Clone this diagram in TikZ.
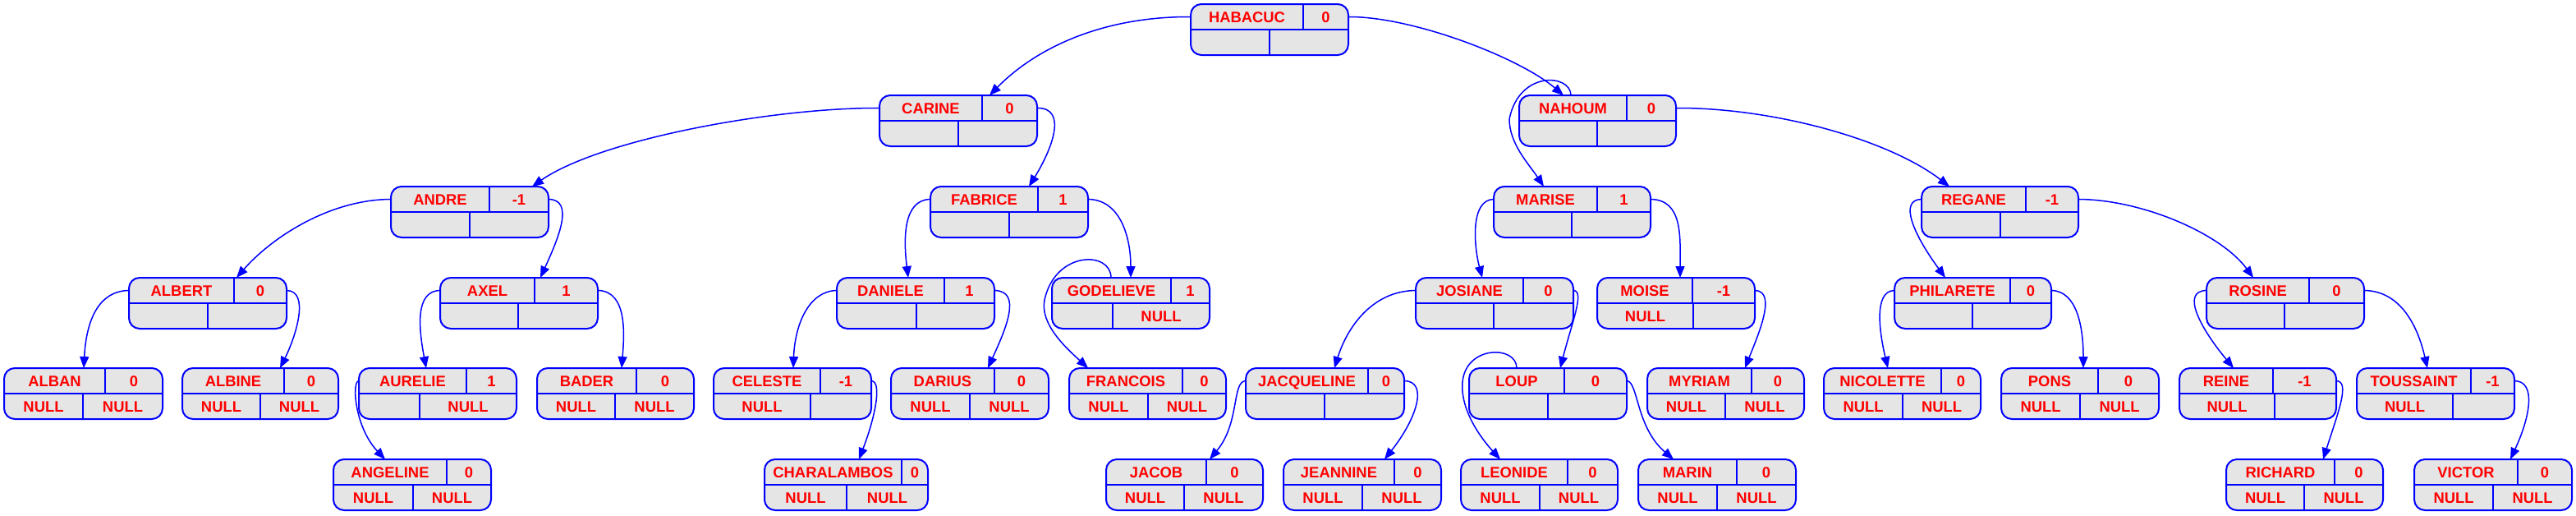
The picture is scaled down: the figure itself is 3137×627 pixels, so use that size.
\documentclass[tikz,border=0pt]{standalone}
\usepackage{fontspec}
\setmainfont{Liberation Sans}
\usetikzlibrary{arrows.meta}
\definecolor{recfill}{HTML}{E5E5E5}
\definecolor{recblue}{HTML}{0000FF}
\definecolor{rectext}{HTML}{FF0000}
\tikzset{
  rec/.style={draw=recblue, fill=recfill, line width=1pt, rounded corners=6.5pt, anchor=north west, minimum height=31pt, inner sep=0pt, outer sep=0pt},
  recl/.style={draw=recblue, line width=1pt},
  rtxt/.style={text=rectext, font=\fontsize{9.2}{10}\selectfont\bfseries, inner sep=0pt, anchor=center, text height=6.55pt, text depth=0pt},
  edge/.style={draw=recblue, line width=0.75pt, -{Triangle[length=7pt,width=5.5pt]}},
}
% \rec{id}{x}{y}{w}{div}{bdiv}{name}{bal}{nullcode}
\newcommand\rec[9]{%
  \pgfmathsetmacro\recw{#4*0.5}%
  \node[rec, minimum width=\recw pt] (#1) at (#2,#3) {};
  \draw[recl] (#2,#3+31) -- (#2+#4,#3+31);
  \draw[recl] (#5,#3) -- (#5,#3+31);
  \draw[recl] (#6,#3+31) -- (#6,#3+62);
  \node[rtxt] (#1-name) at ({(#2+#5)/2},#3+15.5) {#7};
  \node[rtxt] (#1-bal) at ({(#5+#2+#4)/2},#3+15.5) {#8};
  \ifcase#9
  \or
    \node[rtxt] (#1-lnull) at ({(#2+#6)/2},#3+46.5) {NULL};
    \node[rtxt] (#1-rnull) at ({(#6+#2+#4)/2},#3+46.5) {NULL};
  \or
    \node[rtxt] (#1-rnull) at ({(#6+#2+#4)/2},#3+46.5) {NULL};
  \or
    \node[rtxt] (#1-lnull) at ({(#2+#6)/2},#3+46.5) {NULL};
  \fi
  \coordinate (#1-l) at (#2,#3+15.5);
  \coordinate (#1-r) at (#2+#4,#3+15.5);
}
\begin{document}
\begin{tikzpicture}[x=0.5pt,y=-0.5pt]
\useasboundingbox (0,0) rectangle (3137,627);
% level 0
\rec{habacuc}{1450}{5}{192}{1587}{1546}{HABACUC}{0}{0}
% level 1
\rec{carine}{1071}{116}{192}{1196}{1167}{CARINE}{0}{0}
\rec{nahoum}{1850}{116}{191}{1981}{1945}{NAHOUM}{0}{0}
% level 2
\rec{andre}{476}{227}{192}{596}{572}{ANDRE}{-1}{0}
\rec{fabrice}{1133}{227}{192}{1264}{1229}{FABRICE}{1}{0}
\rec{marise}{1819}{227}{191}{1945}{1914}{MARISE}{1}{0}
\rec{regane}{2340}{227}{191}{2467}{2436}{REGANE}{-1}{0}
% level 3
\rec{albert}{157}{338}{192}{285}{253}{ALBERT}{0}{0}
\rec{axel}{536}{338}{192}{651}{631}{AXEL}{1}{0}
\rec{daniele}{1019}{338}{192}{1150}{1116}{DANIELE}{1}{0}
\rec{godelieve}{1281}{338}{192}{1426}{1355}{GODELIEVE}{1}{2}
\rec{josiane}{1724}{338}{192}{1855}{1819}{JOSIANE}{0}{0}
\rec{moise}{1945}{338}{192}{2061}{2062}{MOISE}{-1}{3}
\rec{philarete}{2307}{338}{191}{2448}{2402}{PHILARETE}{0}{0}
\rec{rosine}{2687}{338}{192}{2812}{2782}{ROSINE}{0}{0}
% level 4
\rec{alban}{5}{448}{193}{128}{101}{ALBAN}{0}{1}
\rec{albine}{222}{448}{190}{346}{317}{ALBINE}{0}{1}
\rec{aurelie}{437}{448}{192}{568}{511}{AURELIE}{1}{2}
\rec{bader}{654}{448}{191}{775}{749}{BADER}{0}{1}
\rec{celeste}{869}{448}{192}{999}{987}{CELESTE}{-1}{3}
\rec{darius}{1085}{448}{192}{1211}{1181}{DARIUS}{0}{1}
\rec{francois}{1302}{448}{191}{1440}{1398}{FRANCOIS}{0}{1}
\rec{jacqueline}{1517}{448}{193}{1666}{1613}{JACQUELINE}{0}{0}
\rec{loup}{1789}{448}{192}{1905}{1885}{LOUP}{0}{0}
\rec{myriam}{2006}{448}{191}{2133}{2101}{MYRIAM}{0}{1}
\rec{nicolette}{2221}{448}{191}{2364}{2317}{NICOLETTE}{0}{1}
\rec{pons}{2437}{448}{192}{2555}{2533}{PONS}{0}{1}
\rec{reine}{2654}{448}{191}{2768}{2770}{REINE}{-1}{3}
\rec{toussaint}{2870}{448}{192}{3009}{2987}{TOUSSAINT}{-1}{3}
% level 5
\rec{angeline}{406}{559}{192}{544}{503}{ANGELINE}{0}{1}
\rec{charalambos}{931}{559}{199}{1098}{1031}{CHARALAMBOS}{0}{1}
\rec{jacob}{1347}{559}{191}{1469}{1442}{JACOB}{0}{1}
\rec{jeannine}{1563}{559}{192}{1698}{1659}{JEANNINE}{0}{1}
\rec{leonide}{1779}{559}{191}{1909}{1875}{LEONIDE}{0}{1}
\rec{marin}{1995}{559}{192}{2115}{2091}{MARIN}{0}{1}
\rec{richard}{2711}{559}{191}{2843}{2806}{RICHARD}{0}{1}
\rec{victor}{2940}{559}{192}{3066}{3036}{VICTOR}{0}{1}
% edges
\draw[edge] (habacuc-l) .. controls (1340,20) and (1260,60) .. ([xshift=67pt]carine.north west);
\draw[edge] (habacuc-r) .. controls (1720,20) and (1850,70) .. ([xshift=27pt]nahoum.north west);
\draw[edge] ([xshift=31.5pt]nahoum.north west) .. controls (1913,90) and (1850,85) .. (1838,145) .. controls (1838,175) and (1862,200) .. ([xshift=30.5pt]marise.north west);
\draw[edge] (nahoum-r) .. controls (2160,131) and (2300,170) .. ([xshift=17pt]regane.north west);
\draw[edge] (carine-l) .. controls (940,131) and (730,170) .. ([xshift=86pt]andre.north west);
\draw[edge] (carine-r) .. controls (1300,131) and (1282,180) .. ([xshift=60pt]fabrice.north west);
\draw[edge] (andre-l) .. controls (400,243) and (330,290) .. ([xshift=65.5pt]albert.north west);
\draw[edge] (andre-r) .. controls (700,243) and (680,290) .. ([xshift=61pt]axel.north west);
\draw[edge] (fabrice-l) .. controls (1100,243) and (1100,290) .. ([xshift=43.5pt]daniele.north west);
\draw[edge] (fabrice-r) .. controls (1365,243) and (1377,290) .. ([xshift=48pt]godelieve.north west);
\draw[edge] (marise-l) .. controls (1790,243) and (1795,300) .. ([xshift=40.5pt]josiane.north west);
\draw[edge] (marise-r) .. controls (2050,243) and (2046,290) .. ([xshift=50.5pt]moise.north west);
\draw[edge] (regane-l) .. controls (2312,243) and (2330,285) .. ([xshift=31pt]philarete.north west);
\draw[edge] (regane-r) .. controls (2610,243) and (2705,285) .. ([xshift=28.5pt]rosine.north west);
\draw[edge] (albert-l) .. controls (120,354) and (105,390) .. ([xshift=48.5pt]alban.north west);
\draw[edge] (albert-r) .. controls (378,354) and (360,410) .. ([xshift=59.5pt]albine.north west);
\draw[edge] (axel-l) .. controls (505,354) and (510,400) .. ([xshift=41pt]aurelie.north west);
\draw[edge] (axel-r) .. controls (765,354) and (760,410) .. ([xshift=51.5pt]bader.north west);
\draw[edge] (daniele-l) .. controls (985,354) and (968,395) .. ([xshift=48.5pt]celeste.north west);
\draw[edge] (daniele-r) .. controls (1245,354) and (1225,400) .. ([xshift=59pt]darius.north west);
\draw[edge] ([xshift=36pt]godelieve.north west) .. controls (1353,305) and (1285,305) .. (1272,365) .. controls (1266,395) and (1300,425) .. ([xshift=11.5pt]francois.north west);
\draw[edge] (josiane-l) .. controls (1670,354) and (1640,400) .. ([xshift=54pt]jacqueline.north west);
\draw[edge] (josiane-r) .. controls (1930,354) and (1915,390) .. ([xshift=55.5pt]loup.north west);
\draw[edge] (moise-r) .. controls (2165,354) and (2140,410) .. ([xshift=59.5pt]myriam.north west);
\draw[edge] (philarete-l) .. controls (2280,354) and (2290,410) .. ([xshift=39pt]nicolette.north west);
\draw[edge] (philarete-r) .. controls (2530,354) and (2537,400) .. ([xshift=50pt]pons.north west);
\draw[edge] (rosine-l) .. controls (2655,354) and (2680,400) .. ([xshift=33pt]reine.north west);
\draw[edge] (rosine-r) .. controls (2925,354) and (2945,400) .. ([xshift=43pt]toussaint.north west);
\draw[edge] (aurelie-l) .. controls (428,464) and (432,520) .. ([xshift=31.5pt]angeline.north west);
\draw[edge] (celeste-r) .. controls (1075,464) and (1065,510) .. ([xshift=57.5pt]charalambos.north west);
\draw[edge] (jacqueline-l) .. controls (1500,464) and (1510,515) .. ([xshift=63pt]jacob.north west);
\draw[edge] (jacqueline-r) .. controls (1740,464) and (1725,510) .. ([xshift=61.5pt]jeannine.north west);
\draw[edge] ([xshift=29pt]loup.north west) .. controls (1847,420) and (1785,420) .. (1781,465) .. controls (1778,500) and (1805,535) .. ([xshift=24pt]leonide.north west);
\draw[edge] (loup-r) .. controls (1995,464) and (1992,520) .. ([xshift=21.5pt]marin.north west);
\draw[edge] (reine-r) .. controls (2862,464) and (2848,500) .. ([xshift=59pt]richard.north west);
\draw[edge] (toussaint-r) .. controls (3090,464) and (3080,510) .. ([xshift=58.5pt]victor.north west);
\end{tikzpicture}
\end{document}
